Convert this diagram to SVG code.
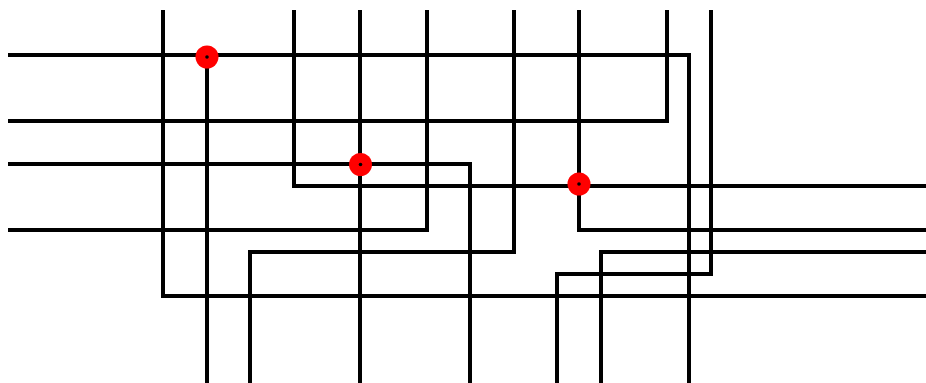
<svg xmlns="http://www.w3.org/2000/svg" width="926" height="383" viewBox="0 0 926 383">
<style>
.w{fill:none;stroke:#000;stroke-width:4;stroke-linejoin:miter;stroke-linecap:butt}
.dot{fill:#ff0000}
.c{fill:#000}
</style>
<rect width="926" height="383" fill="#fff"/>
<g id="connectors">
<polyline class="w" points="8,55 689,55 689,383"/>
<polyline class="w" points="8,121 667,121 667,10"/>
<polyline class="w" points="8,164 470,164 470,383"/>
<polyline class="w" points="8,230 427,230 427,10"/>
<polyline class="w" points="163,10 163,296 926,296"/>
<polyline class="w" points="294,10 294,186 926,186"/>
<polyline class="w" points="360,10 360,383"/>
<polyline class="w" points="514,10 514,252 250,252 250,383"/>
<polyline class="w" points="579,10 579,230 926,230"/>
<polyline class="w" points="711,10 711,274 557,274 557,383"/>
<polyline class="w" points="601,383 601,252 926,252"/>
<polyline class="w" points="207,57 207,383"/>
</g>
<g id="node1"><circle class="dot" cx="207" cy="57" r="11.5"/><circle class="c" cx="207" cy="57" r="1.8"/></g>
<g id="node2"><circle class="dot" cx="360.5" cy="164.5" r="11.5"/><circle class="c" cx="360.5" cy="164.5" r="1.8"/></g>
<g id="node3"><circle class="dot" cx="579" cy="184" r="11.5"/><circle class="c" cx="579" cy="184" r="1.8"/></g>
</svg>
